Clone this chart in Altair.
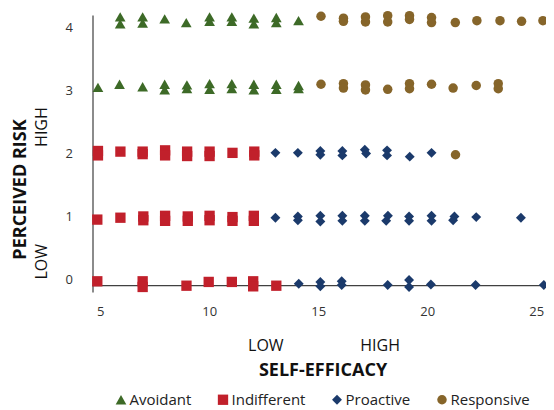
import altair as alt
import pandas as pd

series = ["Avoidant", "Indifferent", "Proactive", "Responsive"]
colors = ["#3d6a27", "#c1202b", "#1b3a6b", "#86652a"]
shapes = ["triangle-up", "square", "diamond", "circle"]
sizes = [115, 90, 105, 100]

x_ticks = [5, 10, 15, 20, 25]
y_ticks = [0, 1, 2, 3, 4]

avoidant_x = [5.92, 5.92, 6.95, 6.95, 7.96, 8.95, 10.02, 10.02, 11.04, 11.04, 12.05, 12.05,
              13.08, 13.08, 14.1,
              4.9, 5.89, 6.95, 7.96, 7.96, 8.98, 8.98, 10.02, 10.02, 11.04, 11.04, 12.05, 12.05,
              13.08, 13.08, 14.1, 14.1]
avoidant_y = [4.17, 4.06, 4.17, 4.07, 4.14, 4.08, 4.17, 4.10, 4.17, 4.10, 4.15, 4.06,
              4.16, 4.08, 4.11,
              3.05, 3.10, 3.06, 3.10, 3.01, 3.09, 3.03, 3.11, 3.02, 3.11, 3.03, 3.10, 3.01,
              3.10, 3.02, 3.08, 3.03]

indifferent_x = [4.9, 4.9, 5.93, 6.95, 6.95, 7.98, 7.98, 8.99, 8.99, 10.02, 10.02, 11.07, 12.07, 12.07,
                 4.87, 5.93, 6.98, 6.98, 7.98, 7.98, 9.02, 9.02, 10.02, 10.02, 11.07, 11.07, 12.05, 12.05,
                 4.87, 6.95, 6.95, 8.96, 9.98, 11.04, 12.02, 12.02, 13.08]
indifferent_y = [2.04, 1.97, 2.03, 2.03, 1.99, 2.05, 1.97, 2.03, 1.96, 2.03, 1.96, 2.01, 2.03, 1.97,
                 0.95, 0.98, 1.0, 0.94, 1.01, 0.93, 1.0, 0.93, 1.01, 0.94, 0.99, 0.93, 1.01, 0.93,
                 -0.03, -0.03, -0.12, -0.10, -0.04, -0.04, -0.03, -0.11, -0.10]

proactive_x = [13.04, 14.07, 15.1, 15.1, 16.11, 16.11, 17.14, 17.2, 18.16, 18.16, 19.2, 20.2,
               13.04, 14.07, 14.07, 15.1, 15.1, 16.11, 16.11, 17.14, 17.14, 18.2, 18.12, 19.17, 19.17,
               20.2, 20.2, 21.25, 21.19, 22.25, 24.3,
               14.11, 15.1, 15.1, 16.08, 16.08, 18.19, 19.17, 19.17, 20.17, 22.22, 25.35]
proactive_y = [2.01, 2.01, 2.04, 1.98, 2.04, 1.97, 2.06, 2.0, 2.05, 1.97, 1.95, 2.01,
               0.98, 1.0, 0.94, 1.01, 0.92, 1.01, 0.93, 1.01, 0.93, 1.01, 0.93, 1.0, 0.93,
               1.01, 0.93, 1.0, 0.94, 0.99, 0.98,
               -0.07, -0.04, -0.11, -0.03, -0.09, -0.09, -0.01, -0.12, -0.08, -0.09, -0.09]

responsive_x = [15.13, 16.16, 16.16, 17.17, 17.17, 18.19, 18.19, 19.19, 19.19, 20.2, 20.2, 21.29,
                22.28, 23.34, 24.33, 25.31,
                15.13, 16.16, 16.16, 17.17, 17.17, 18.19, 19.19, 19.19, 20.2, 21.19, 22.25, 23.26, 23.26,
                21.3]
responsive_y = [4.18, 4.15, 4.10, 4.17, 4.09, 4.19, 4.09, 4.19, 4.13, 4.16, 4.08, 4.08,
                4.11, 4.11, 4.10, 4.11,
                3.10, 3.11, 3.04, 3.09, 3.01, 3.02, 3.11, 3.03, 3.10, 3.04, 3.08, 3.11, 3.03,
                1.98]

rows = []
for name, xs, ys in [("Avoidant", avoidant_x, avoidant_y),
                     ("Indifferent", indifferent_x, indifferent_y),
                     ("Proactive", proactive_x, proactive_y),
                     ("Responsive", responsive_x, responsive_y)]:
    for xv, yv in zip(xs, ys):
        rows.append({"series": name, "efficacy": xv, "risk": yv})
df = pd.DataFrame(rows)
one = pd.DataFrame({"k": [0]})

W, H = 453.5, 277
FONT = "Open Sans"
x_scale = alt.Scale(domain=[4.65, 25.45], nice=False, zero=False)
y_scale = alt.Scale(domain=[-0.2, 4.2], nice=False, zero=False)

legend = alt.Legend(orient="none", legendX=21, legendY=377, direction="horizontal",
                    title=None, labelFont=FONT, labelFontSize=15, labelColor="#222222",
                    symbolSize=70, symbolStrokeWidth=0, columnPadding=24, labelOffset=1,
                    padding=0)

points = alt.Chart(df).mark_point(filled=True, opacity=1, strokeWidth=0).encode(
    x=alt.X("efficacy:Q", scale=x_scale,
            axis=alt.Axis(values=x_ticks, title="SELF-EFFICACY", grid=False, domain=False,
                          ticks=False, labelPadding=13, labelFontSize=13, labelColor="#333333",
                          labelFlush=False,
                          titleX=230, titleY=78, titleFontSize=18, titleFontWeight="bold",
                          titleBaseline="middle", titleAlign="center", titleColor="#111111")),
    y=alt.Y("risk:Q", scale=y_scale,
            axis=alt.Axis(values=y_ticks, format="d", title="PERCEIVED RISK", grid=False,
                          ticks=False, domainColor="#6e6e6e", domainWidth=1.6, labelPadding=20,
                          labelFontSize=13, labelColor="#333333", labelFlush=False,
                          titleX=-72, titleY=174, titleAngle=270, titleFontSize=18,
                          titleFontWeight="bold", titleBaseline="middle", titleAlign="center",
                          titleColor="#111111")),
    color=alt.Color("series:N", scale=alt.Scale(domain=series, range=colors), legend=legend),
    shape=alt.Shape("series:N", scale=alt.Scale(domain=series, range=shapes), legend=legend),
    size=alt.Size("series:N", scale=alt.Scale(domain=series, range=sizes), legend=None),
)

baseline = alt.Chart(one).mark_rule(color="#404040", strokeWidth=1.3).encode(
    y=alt.datum(-0.1), x=alt.value(0), x2=alt.value(W))

def label(text, **kw):
    return alt.Chart(one).mark_text(text=text, font=FONT, fontSize=16, color="#111111",
                                    **kw)

x_low = label("LOW").encode(x=alt.datum(12.6), y=alt.value(330.5))
x_high = label("HIGH").encode(x=alt.datum(17.84), y=alt.value(330.5))
y_low = label("LOW", angle=270).encode(x=alt.value(-50.5), y=alt.datum(0.28))
y_high = label("HIGH", angle=270).encode(x=alt.value(-50.5), y=alt.datum(2.42))

chart = alt.layer(baseline, points, x_low, x_high, y_low, y_high).properties(
    width=W, height=H,
    padding={"left": 84.5, "top": 7, "right": 0, "bottom": 118},
    autosize=alt.AutoSizeParams(type="none"),
).configure_view(stroke=None).configure_axis(
    labelFont=FONT, titleFont=FONT
)

chart.save("out.html", embed_options={"renderer": "svg", "actions": False})
